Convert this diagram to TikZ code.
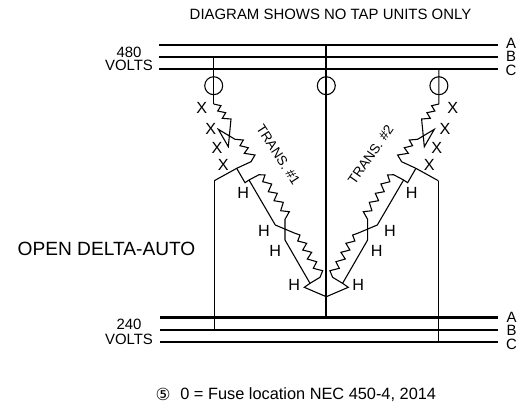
\documentclass[tikz,border=0pt]{standalone}
\usepackage{fontspec}
\setmainfont{Liberation Sans}
\newfontfamily\symfont{DejaVu Sans}
\tikzset{
  bus/.style={line width=1.35pt},
  wire/.style={line width=.62pt},
  fuse/.style={draw,circle,line width=.62pt,minimum size=18*.568pt,inner sep=0pt},
  lab/.style={inner sep=0pt,font=\fontsize{8.5}{9}\selectfont},
  coillab/.style={inner sep=0pt,font=\fontsize{9.2}{10}\selectfont},
  translab/.style={inner sep=0pt,font=\fontsize{7.7}{9}\selectfont},
  biglab/.style={inner sep=0pt,font=\fontsize{10.9}{12}\selectfont},
  leftside/.style={},
  rightside/.style={shift={(652.6,0)},xscale=-1}
}
\begin{document}
\begin{tikzpicture}[x=.02cm,y=-.02cm]
\useasboundingbox (0,0) rectangle (530,407);
\node[lab] (title) at (330.5,14) {DIAGRAM SHOWS NO TAP UNITS ONLY};
% buses
\foreach \y/\l/\ly in {45/A/43,57/B/56,69/C/70}{
\coordinate (top\l) at (159,\y);
\coordinate (tope\l) at (498,\y);
\draw[bus] (top\l) -- (tope\l);
\node[lab] (toplab\l) at (511,\ly) {\l};
}
\foreach \y/\l/\ly in {317.5/A/317,330/B/330,342/C/344}{
\coordinate (bot\l) at (160,\y);
\coordinate (bote\l) at (498,\y);
\draw[bus] (bot\l) -- (bote\l);
\node[lab] (botlab\l) at (511.5,\ly) {\l};
}
\node[lab] (v480) at (129,52) {480};
\node[lab] (volts1) at (129,65) {VOLTS};
\node[lab] (v240) at (129,324) {240};
\node[lab] (volts2) at (129,339) {VOLTS};
\node[biglab] (auto) at (106.5,249) {OPEN DELTA-AUTO};
%%%%
\coordinate (ctop) at (326.3,45);
\coordinate (cbot) at (326.3,317.5);
\draw[bus] (ctop) -- (cbot);
\node[fuse] (fuse0) at (326.3,85.7) {};
%%%% one transformer, then its mirror image
\foreach \side/\n in {leftside/1,rightside/2}{
\begin{scope}[\side]
\node[fuse] (fuse\n) at (213.7,85.7) {};
\coordinate (start\n) at (213.7,104);
\coordinate (tip\n) at (228.3,146.7);
\coordinate (j\n) at (236.7,168.3);
\coordinate (leg\n) at (214.3,180.7);
\coordinate (k\n) at (249,180);
\coordinate (m\n) at (275.3,225);
\coordinate (n\n) at (285,219.3);
\coordinate (p\n) at (285,240);
\coordinate (q\n) at (310,283.3);
\coordinate (r\n) at (304.3,287.3);
\coordinate (s\n) at (326.3,296.7);
% X winding
\draw[wire] (start\n) -- (221,105.7) -- (217.7,111) -- (225.7,112.7) -- (222.3,118.3) -- (231,119) -- (tip\n)
 -- (218.3,129.3) -- (235,139.3) -- (243.3,140) -- (240,145.7) -- (248.3,147.7) -- (244.3,153.3) -- (255,155)
 -- (251,161.7) -- (j\n) -- (leg\n);
% H windings
\draw[wire] (j\n) -- (245,182.7) -- (k\n) -- (259,174.7) -- (265,175) -- (262.7,181.7) -- (271.7,184) -- (268.3,191.7)
 -- (277.3,193.3) -- (274,200.7) -- (283.3,202.3) -- (280.7,210.7) -- (289.3,211.7) -- (n\n) -- (p\n) -- (q\n) -- (r\n) -- (s\n);
\draw[wire] (k\n) -- (m\n) -- (295,233.3) -- (300,235) -- (297.7,241) -- (306.7,243.3) -- (302.7,250) -- (311.7,252.3)
 -- (307.3,259) -- (316.7,261.7) -- (313.3,268.3) -- (322.7,270.7) -- (320,277.3) -- (q\n);
\end{scope}
}
%%%%
\coordinate (tapB) at (213.7,57);
\coordinate (tapC) at (438.9,69);
\coordinate (endB) at (214.3,330);
\coordinate (endC) at (438.3,342);
\draw[wire] (tapB) -- (start1);
\draw[wire] (tapC) -- (start2);
\draw[wire] (leg1) -- (endB);
\draw[wire] (leg2) -- (endC);
%%%%
\foreach \x/\y/\n in {201.7/107.7/1,210.7/129/2,217/148.3/3,223.3/165/4,452.7/107.7/5,445/129/6,436.7/148.3/7,429.3/165/8}
\node[coillab] (x\n) at (\x,\y) {X};
\foreach \x/\y/\n in {243.3/193.3/1,264/230.7/2,275.3/251/3,294.3/285.3/4,411.7/193.3/5,390/230.7/6,376.7/251/7,358.3/285.3/8}
\node[coillab] (h\n) at (\x,\y) {H};
\node[translab,rotate=-57] (trans1) at (278.3,155) {TRANS. \#1};
\node[translab,rotate=55] (trans2) at (370.7,155) {TRANS. \#2};
%%%%
\node[lab,font=\fontsize{9.3}{10}\selectfont,anchor=west] (note) at (180,395) {0 = Fuse location NEC 450-4, 2014};
\node[lab,font=\symfont\fontsize{9.5}{10}\selectfont] (five) at (163,394) {⑤};
\end{tikzpicture}
\end{document}
